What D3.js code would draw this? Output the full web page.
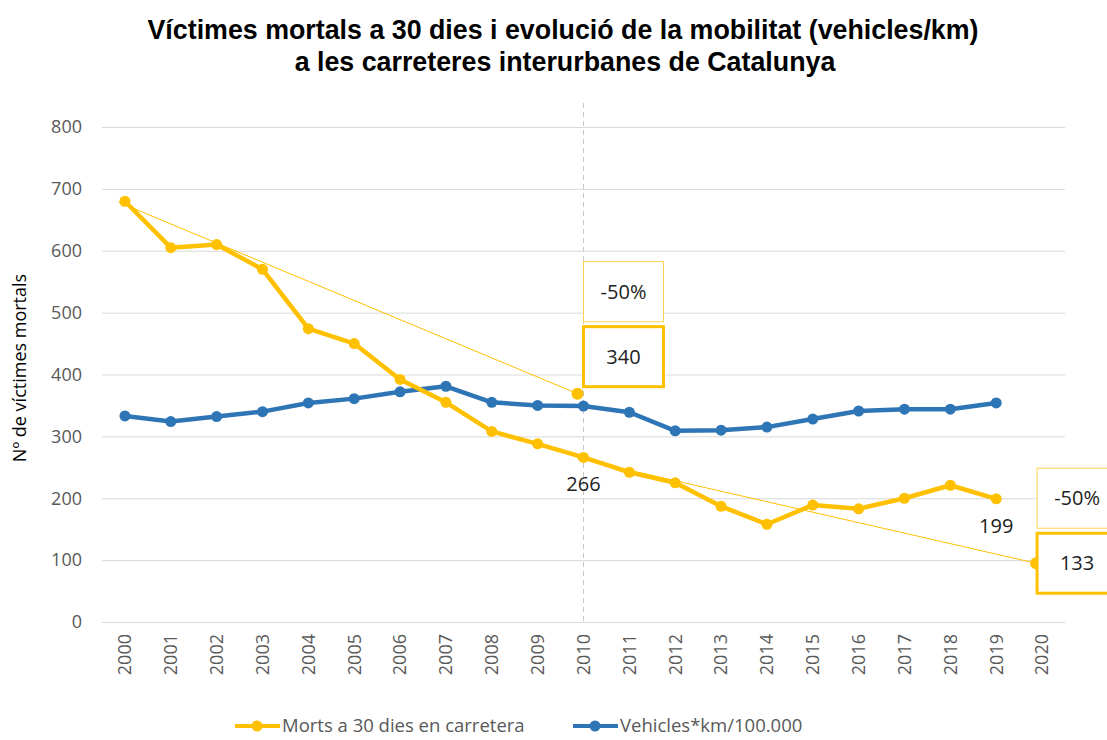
<!DOCTYPE html>
<head>
    <meta charset="utf-8">
    <title>Víctimes mortals i mobilitat</title>
    <style>
        body { margin: 0; background: #fff; }
        text { font-family: "Open Sans", sans-serif; }
        .title { font-family: "Liberation Sans", Arial, sans-serif; font-weight: bold; font-size: 26.8px; fill: #000; }
        .tick text { fill: #595959; font-size: 18px; }
        .grid line { stroke: #d9d9d9; }
    </style>
</head>
<body>

<svg width="1107" height="740"></svg>

<script src="https://d3js.org/d3.v7.min.js"></script>
<script>
    // chart data
    var years = ["2000","2001","2002","2003","2004","2005","2006","2007","2008","2009","2010",
                 "2011","2012","2013","2014","2015","2016","2017","2018","2019","2020"];
    var morts = [680, 605, 610, 570, 474, 450, 392, 355, 308, 288, 266,
                 242, 225, 187, 158, 189, 183, 200, 221, 199];
    var vehicles = [333, 324, 332, 340, 354, 361, 372, 381, 355, 350, 349,
                    339, 309, 310, 315, 328, 341, 344, 344, 354];
    // objective points (-50%) and their boxes
    var targetYears = ["2010", "2020"];
    var targetValues = [369, 95];
    var targetLabels = ["340", "133"];
    var trendFrom = [680, 266];   // value each -50% line starts from
    var trendFromYears = ["2000", "2010"];
    var valueLabels = [{year: "2010", text: "266"}, {year: "2019", text: "199"}];
    var yTicks = [0, 100, 200, 300, 400, 500, 600, 700, 800];

    var svg = d3.select("svg"),
        width = +svg.attr("width"),
        height = +svg.attr("height");

    var plotLeft = 102, plotRight = 1065, plotTop = 127, plotBottom = 622;
    var yellow = "#FFC000", blue = "#2E75B6";

    var x = d3.scaleBand().domain(years).range([plotLeft, plotRight]);
    var cx = function(yr) { return x(yr) + x.bandwidth() / 2; };
    var y = d3.scaleLinear().domain([0, 800]).range([plotBottom, plotTop]);

    // title
    svg.append("text").attr("class", "title")
        .attr("x", 563).attr("y", 39).attr("text-anchor", "middle")
        .text("Víctimes mortals a 30 dies i evolució de la mobilitat (vehicles/km)");
    svg.append("text").attr("class", "title")
        .attr("x", 565).attr("y", 71).attr("text-anchor", "middle")
        .text("a les carreteres interurbanes de Catalunya");

    // grid + y axis
    svg.append("g").attr("class", "grid")
        .attr("transform", "translate(" + plotLeft + ",0)")
        .call(d3.axisLeft(y).tickValues(yTicks).tickSize(-(plotRight - plotLeft)).tickPadding(20))
        .call(function(g) { g.select(".domain").remove(); });

    svg.append("text")
        .attr("transform", "translate(26," + 368 + ") rotate(-90)")
        .attr("text-anchor", "middle")
        .attr("font-size", "18px")
        .attr("fill", "#000")
        .text("Nº de víctimes  mortals");

    // x axis labels
    var xa = svg.append("g")
        .attr("transform", "translate(0," + plotBottom + ")")
        .call(d3.axisBottom(x).tickSize(0).tickPadding(0));
    xa.select(".domain").remove();
    xa.selectAll("text")
        .attr("transform", "rotate(-90)")
        .attr("x", -12).attr("y", 0).attr("dy", "0.35em")
        .attr("text-anchor", "end");

    // dashed line at 2010
    svg.append("line")
        .attr("x1", cx("2010")).attr("x2", cx("2010"))
        .attr("y1", 103).attr("y2", plotBottom)
        .attr("stroke", "#c8c8c8").attr("stroke-dasharray", "5,4");

    // thin -50% lines
    trendFrom.forEach(function(v, i) {
        svg.append("line")
            .attr("x1", cx(trendFromYears[i]) - 6).attr("y1", y(v) + 1)
            .attr("x2", cx(targetYears[i]) - 6).attr("y2", y(targetValues[i]))
            .attr("stroke", yellow).attr("stroke-width", 1);
    });

    function series(vals, color) {
        var pts = vals.map(function(v, i) { return [cx(years[i]), y(v)]; });
        svg.append("path")
            .attr("d", d3.line()(pts))
            .attr("fill", "none").attr("stroke", color)
            .attr("stroke-width", 4.5).attr("stroke-linejoin", "round");
        svg.append("g").selectAll("circle").data(pts).enter().append("circle")
            .attr("cx", function(d) { return d[0]; })
            .attr("cy", function(d) { return d[1]; })
            .attr("r", 5.5).attr("fill", color);
    }
    series(vehicles, blue);
    series(morts, yellow);

    // target dots and boxes
    targetYears.forEach(function(yr, i) {
        var px = cx(yr) - 6, py = y(targetValues[i]);
        svg.append("circle").attr("cx", px).attr("cy", py).attr("r", 6).attr("fill", yellow);
        var bx = px + 6, by = py - 67;
        if (i == 1) { bx = px + 1; by = py - 30; }
        svg.append("rect")
            .attr("x", bx).attr("y", by - 65).attr("width", 80).attr("height", 60)
            .attr("fill", "#fff").attr("stroke", "#FFD24D").attr("stroke-width", 1);
        svg.append("text")
            .attr("x", bx + 40).attr("y", by - 35).attr("dy", "0.35em")
            .attr("text-anchor", "middle").attr("font-size", "20px").attr("fill", "#222")
            .text("-50%");
        svg.append("rect")
            .attr("x", bx).attr("y", by).attr("width", 80).attr("height", 60)
            .attr("fill", "#fff").attr("stroke", yellow).attr("stroke-width", 3);
        svg.append("text")
            .attr("x", bx + 40).attr("y", by + 30).attr("dy", "0.35em")
            .attr("text-anchor", "middle").attr("font-size", "20px").attr("fill", "#222")
            .text(targetLabels[i]);
    });

    // value labels
    valueLabels.forEach(function(d) {
        var v = morts[years.indexOf(d.year)];
        svg.append("text")
            .attr("x", cx(d.year)).attr("y", y(v) + 27).attr("dy", "0.35em")
            .attr("text-anchor", "middle").attr("font-size", "20px").attr("fill", "#222")
            .text(d.text);
    });

    // legend
    var legend = [{name: "Morts a 30 dies en carretera", color: yellow, x: 235},
                  {name: "Vehicles*km/100.000", color: blue, x: 573}];
    legend.forEach(function(d) {
        var g = svg.append("g").attr("transform", "translate(" + d.x + ",726)");
        g.append("line").attr("x1", 0).attr("x2", 45).attr("stroke", d.color).attr("stroke-width", 4);
        g.append("circle").attr("cx", 22).attr("r", 5.5).attr("fill", d.color);
        g.append("text").attr("x", 47).attr("dy", "0.35em")
            .attr("font-size", "18.5px").attr("fill", "#595959").text(d.name);
    });
</script>

</body>
